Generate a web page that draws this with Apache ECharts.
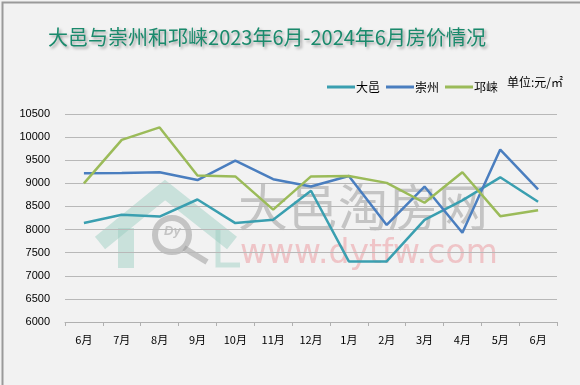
<!DOCTYPE html>
<html><head><meta charset="utf-8">
<script src="https://cdn.jsdelivr.net/npm/echarts@6/dist/echarts.min.js"></script>
<style>html,body{margin:0;padding:0;background:#f2f2f2}#c{width:580px;height:385px}</style>
</head><body><div id="c"></div>
<script>
var categories = ['6月','7月','8月','9月','10月','11月','12月','1月','2月','3月','4月','5月','6月'];
var dayi = [8140, 8320, 8280, 8650, 8140, 8210, 8840, 7310, 7310, 8210, 8630, 9130, 8600];
var chongzhou = [9220, 9225, 9240, 9070, 9490, 9090, 8930, 9160, 8100, 8930, 7930, 9730, 8870];
var qionglai = [9000, 9940, 10210, 9170, 9150, 8430, 9150, 9160, 9010, 8580, 9240, 8290, 8420];
var yTicks = {min: 6000, max: 10500, interval: 500};

var chart = echarts.init(document.getElementById('c'));
var font = '"Noto Sans CJK SC", "Noto Sans", sans-serif';
chart.setOption({
  backgroundColor: '#f2f2f2',
  animation: false,
  title: {
    text: '大邑与崇州和邛崃2023年6月-2024年6月房价情况',
    left: 262, top: 22, textAlign: 'center',
    textStyle: {fontFamily: font, fontSize: 20, fontWeight: 'normal', color: '#1a8a6c',
      textShadowColor: 'rgba(0,0,0,0.35)', textShadowBlur: 3, textShadowOffsetX: 2, textShadowOffsetY: 2}
  },
  legend: {
    data: ['大邑','崇州','邛崃'],
    left: 322, top: 76, itemWidth: 28, itemHeight: 3, itemGap: 6,
    icon: 'rect',
    textStyle: {fontFamily: font, fontSize: 12, color: '#000', padding: [0,0,0,-4]}
  },
  grid: {left: 65, right: 23, top: 114, bottom: 63},
  xAxis: {
    type: 'category', data: categories, boundaryGap: true,
    axisLine: {lineStyle: {color: '#b0b0b0'}},
    axisTick: {show: true, length: 4, lineStyle: {color: '#b0b0b0'}},
    axisLabel: {fontFamily: font, fontSize: 11, color: '#000', margin: 12}
  },
  yAxis: {
    type: 'value', min: yTicks.min, max: yTicks.max, interval: yTicks.interval,
    axisLine: {show: false}, axisTick: {show: false},
    axisLabel: {fontFamily: 'Liberation Sans, sans-serif', fontSize: 11, color: '#000', margin: 15,
      formatter: function (v) { return String(v); }},
    splitLine: {lineStyle: {color: '#b8b8b8', width: 1}}
  },
  graphic: [
    {type: 'rect', left: 0, top: 0, z: 100, shape: {width: 579, height: 384}, style: {fill: 'none', stroke: '#9a9a9a', lineWidth: 2}, silent: true},
    {type: 'polyline', z: 0, shape: {points: [[100,243],[165,190],[232,243]]}, style: {stroke: 'rgba(150,205,190,0.45)', lineWidth: 16, fill: 'none'}},
    {type: 'rect', z: 0, shape: {x: 118, y: 228, width: 16, height: 40}, style: {fill: 'rgba(150,205,190,0.45)'}},
    {type: 'polyline', z: 0, shape: {points: [[218,230],[218,265],[240,265]]}, style: {stroke: 'rgba(150,205,190,0.45)', lineWidth: 5, fill: 'none'}},
    {type: 'circle', z: 0, shape: {cx: 172, cy: 235, r: 17}, style: {stroke: 'rgba(150,150,150,0.5)', lineWidth: 6, fill: 'none'}},
    {type: 'line', z: 0, shape: {x1: 184, y1: 248, x2: 207, y2: 262}, style: {stroke: 'rgba(150,150,150,0.5)', lineWidth: 6}},
    {type: 'text', z: 0, left: 164, top: 225, style: {text: 'Dy', font: 'italic bold 13px sans-serif', fill: 'rgba(150,150,150,0.5)'}},
    {type: 'text', z: 0, left: 238, top: 182, style: {text: '大邑淘房网', font: '50px "Noto Sans CJK SC"', fill: 'rgba(150,150,150,0.5)'}},
    {type: 'text', z: 0, left: 240, top: 238, style: {text: 'www.dytfw.com', font: '33px "DejaVu Sans"', fill: 'rgba(235,150,155,0.5)'}},
    {type: 'text', z: 10, left: 507, top: 76, style: {text: '单位:元/㎡', font: '12px "Noto Sans CJK SC"', fill: '#000'}}
  ],
  series: [
    {name: '大邑', type: 'line', data: dayi, showSymbol: false, symbol: 'none', lineStyle: {width: 2.5, color: '#3a9fb0'}, itemStyle: {color: '#3a9fb0'}, z: 5},
    {name: '崇州', type: 'line', data: chongzhou, showSymbol: false, symbol: 'none', lineStyle: {width: 2.5, color: '#4a7ebf'}, itemStyle: {color: '#4a7ebf'}, z: 5},
    {name: '邛崃', type: 'line', data: qionglai, showSymbol: false, symbol: 'none', lineStyle: {width: 2.5, color: '#9bbb59'}, itemStyle: {color: '#9bbb59'}, z: 5}
  ]
});
</script></body></html>
